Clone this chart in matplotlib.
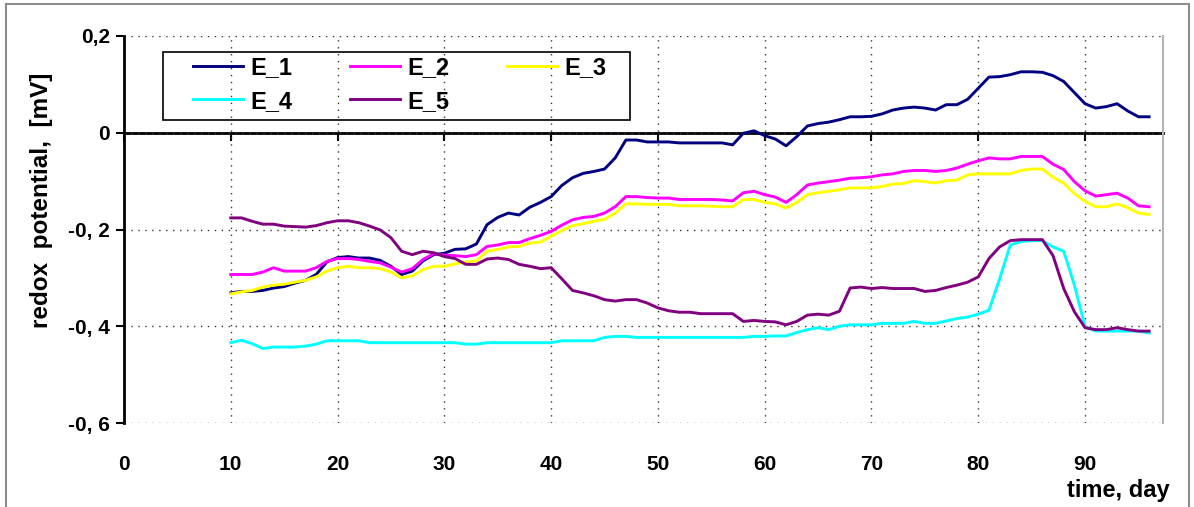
import numpy as np
import matplotlib
matplotlib.use("Agg")
import matplotlib.pyplot as plt
from matplotlib.patches import Rectangle

# measurement days and redox potential of the five electrodes
days = np.arange(10, 97)

e1 = [-0.331, -0.328, -0.328, -0.326, -0.321, -0.318, -0.311, -0.305, -0.293, -0.267,
      -0.258, -0.256, -0.259, -0.259, -0.264, -0.276, -0.293, -0.286, -0.265, -0.252,
      -0.249, -0.241, -0.240, -0.230, -0.190, -0.175, -0.166, -0.170, -0.154, -0.144,
      -0.132, -0.109, -0.093, -0.084, -0.080, -0.075, -0.052, -0.015, -0.015, -0.019,
      -0.019, -0.019, -0.021, -0.021, -0.021, -0.021, -0.021, -0.025, -0.001, 0.004,
      -0.006, -0.013, -0.027, -0.008, 0.014, 0.019, 0.022, 0.027, 0.033, 0.033,
      0.034, 0.039, 0.047, 0.051, 0.053, 0.051, 0.047, 0.058, 0.058, 0.069,
      0.092, 0.115, 0.116, 0.120, 0.126, 0.126, 0.125, 0.118, 0.106, 0.083,
      0.060, 0.051, 0.054, 0.060, 0.045, 0.033, 0.033]

e2 = [-0.293, -0.293, -0.293, -0.288, -0.279, -0.286, -0.286, -0.286, -0.279, -0.266,
      -0.260, -0.260, -0.262, -0.266, -0.269, -0.278, -0.288, -0.281, -0.262, -0.250,
      -0.253, -0.254, -0.256, -0.252, -0.235, -0.232, -0.227, -0.227, -0.219, -0.212,
      -0.204, -0.191, -0.180, -0.175, -0.173, -0.166, -0.153, -0.132, -0.132, -0.134,
      -0.135, -0.135, -0.138, -0.138, -0.138, -0.138, -0.139, -0.141, -0.124, -0.121,
      -0.128, -0.133, -0.144, -0.128, -0.108, -0.104, -0.101, -0.098, -0.094, -0.093,
      -0.091, -0.087, -0.085, -0.080, -0.078, -0.078, -0.080, -0.078, -0.073, -0.065,
      -0.058, -0.052, -0.054, -0.054, -0.049, -0.049, -0.049, -0.065, -0.076, -0.101,
      -0.120, -0.131, -0.128, -0.125, -0.135, -0.151, -0.153]

e3 = [-0.333, -0.329, -0.326, -0.319, -0.315, -0.313, -0.309, -0.305, -0.298, -0.286,
      -0.279, -0.276, -0.279, -0.279, -0.281, -0.288, -0.300, -0.296, -0.283, -0.276,
      -0.276, -0.271, -0.267, -0.265, -0.245, -0.241, -0.236, -0.235, -0.228, -0.226,
      -0.214, -0.202, -0.192, -0.188, -0.183, -0.179, -0.166, -0.147, -0.147, -0.148,
      -0.148, -0.148, -0.151, -0.151, -0.151, -0.152, -0.153, -0.153, -0.138, -0.138,
      -0.144, -0.147, -0.156, -0.144, -0.128, -0.124, -0.121, -0.118, -0.114, -0.114,
      -0.114, -0.111, -0.106, -0.105, -0.099, -0.101, -0.104, -0.099, -0.098, -0.087,
      -0.085, -0.085, -0.085, -0.085, -0.078, -0.075, -0.075, -0.092, -0.104, -0.126,
      -0.142, -0.153, -0.153, -0.147, -0.155, -0.166, -0.169]

e4 = [-0.434, -0.429, -0.436, -0.446, -0.443, -0.443, -0.443, -0.441, -0.437, -0.430,
      -0.430, -0.430, -0.430, -0.434, -0.434, -0.434, -0.434, -0.434, -0.434, -0.434,
      -0.434, -0.434, -0.437, -0.437, -0.434, -0.434, -0.434, -0.434, -0.434, -0.434,
      -0.434, -0.430, -0.430, -0.430, -0.430, -0.423, -0.421, -0.421, -0.423, -0.423,
      -0.423, -0.423, -0.423, -0.423, -0.423, -0.423, -0.423, -0.423, -0.423, -0.421,
      -0.421, -0.420, -0.420, -0.413, -0.407, -0.403, -0.407, -0.400, -0.397, -0.397,
      -0.397, -0.394, -0.394, -0.394, -0.390, -0.394, -0.394, -0.389, -0.384, -0.381,
      -0.375, -0.367, -0.302, -0.232, -0.225, -0.223, -0.223, -0.236, -0.245, -0.315,
      -0.401, -0.410, -0.410, -0.410, -0.410, -0.410, -0.414]

e5 = [-0.176, -0.176, -0.183, -0.189, -0.189, -0.193, -0.194, -0.195, -0.192, -0.186,
      -0.182, -0.182, -0.186, -0.193, -0.201, -0.217, -0.245, -0.252, -0.245, -0.248,
      -0.256, -0.260, -0.272, -0.272, -0.261, -0.259, -0.262, -0.272, -0.276, -0.281,
      -0.279, -0.302, -0.326, -0.331, -0.337, -0.345, -0.348, -0.345, -0.345, -0.352,
      -0.362, -0.368, -0.371, -0.371, -0.374, -0.374, -0.374, -0.374, -0.390, -0.388,
      -0.390, -0.391, -0.397, -0.390, -0.377, -0.375, -0.377, -0.369, -0.321, -0.319,
      -0.322, -0.320, -0.322, -0.322, -0.322, -0.328, -0.326, -0.320, -0.315, -0.309,
      -0.298, -0.260, -0.236, -0.223, -0.221, -0.221, -0.221, -0.254, -0.322, -0.370,
      -0.403, -0.407, -0.407, -0.403, -0.407, -0.410, -0.410]

series = [e1, e2, e3, e4, e5]
names = ["E_1", "E_2", "E_3", "E_4", "E_5"]
colors = ["#000080", "#ff00ff", "#ffff00", "#00ffff", "#800080"]

x_ticks = [0, 10, 20, 30, 40, 50, 60, 70, 80, 90]
y_ticks = [-0.6, -0.4, -0.2, 0.0, 0.2]
y_labels = ["-0, 6", "-0, 4", "-0, 2", "0", "0,2"]

plt.rcParams["font.family"] = ["Liberation Sans", "DejaVu Sans"]
plt.rcParams["font.weight"] = "bold"

W, H = 1194, 507
fig = plt.figure(figsize=(W / 100, H / 100), dpi=100)
ax = fig.add_axes([124 / W, 1 - 423 / H, (1163 - 124) / W, (423 - 36) / H])

handles = []
for vals, name, c in zip(series, names, colors):
    h, = ax.plot(days, vals, color=c, lw=2.1, label=name, zorder=3)
    handles.append(h)

ax.set_xlim(0, 97.3)
ax.set_ylim(-0.6, 0.2)
ax.set_xticks(x_ticks)
ax.set_yticks(y_ticks)
ax.set_yticklabels(y_labels)
ax.tick_params(axis="x", length=0, pad=23, labelsize=15)
ax.tick_params(axis="y", direction="out", length=6, width=1.5, pad=4, labelsize=15)

ax.grid(True, linestyle=(0, (1, 4)), color="#333333", lw=1.0, zorder=1)
ax.spines["left"].set_linewidth(2)
ax.spines["left"].set_color("black")
ax.spines["right"].set_color("#b4b4b4")
ax.spines["right"].set_linewidth(1.5)
ax.spines["top"].set_visible(False)
ax.spines["bottom"].set_visible(False)

# the zero line acts as the x axis, ticks pointing down
sec = ax.secondary_xaxis(0.75)
sec.set_alignment("bottom")
sec.set_xticks(x_ticks)
sec.spines["bottom"].set_linewidth(2)
sec.spines["bottom"].set_color("black")
sec.tick_params(axis="x", direction="out", length=6, width=1.5,
                labelbottom=False, labeltop=False)

# legend, filled row by row
order = [0, 3, 1, 4, 2]
ax.legend([handles[i] for i in order], [names[i] for i in order],
          ncol=3, loc="upper left", bbox_to_anchor=(193 / W, 1 - 56 / H),
          bbox_transform=fig.transFigure, frameon=False, borderpad=0,
          borderaxespad=0, handlelength=2.12, handletextpad=0.3,
          columnspacing=2.45, labelspacing=0.45,
          prop=dict(weight="bold", size=17))
fig.patches.append(Rectangle((163 / W, 1 - 120 / H), (630 - 163) / W, 68 / H,
                             transform=fig.transFigure, fill=False,
                             ec="black", lw=1.2, zorder=5))

# outer frame
fig.patches.append(Rectangle((6 / W, -0.05), (1189 - 6) / W, 1 - 4 / H + 0.05,
                             transform=fig.transFigure, fill=False,
                             ec="#8c8c8c", lw=1.5))

fig.text(42 / W, 1 - 200 / H, "redox  potential,  [mV]", rotation=90,
         ha="center", va="center", fontsize=17.5, fontweight="bold")
fig.text(1170 / W, 1 - 490 / H, "time, day", ha="right", va="center",
         fontsize=17, fontweight="bold")

fig.savefig("out.png", dpi=100)
